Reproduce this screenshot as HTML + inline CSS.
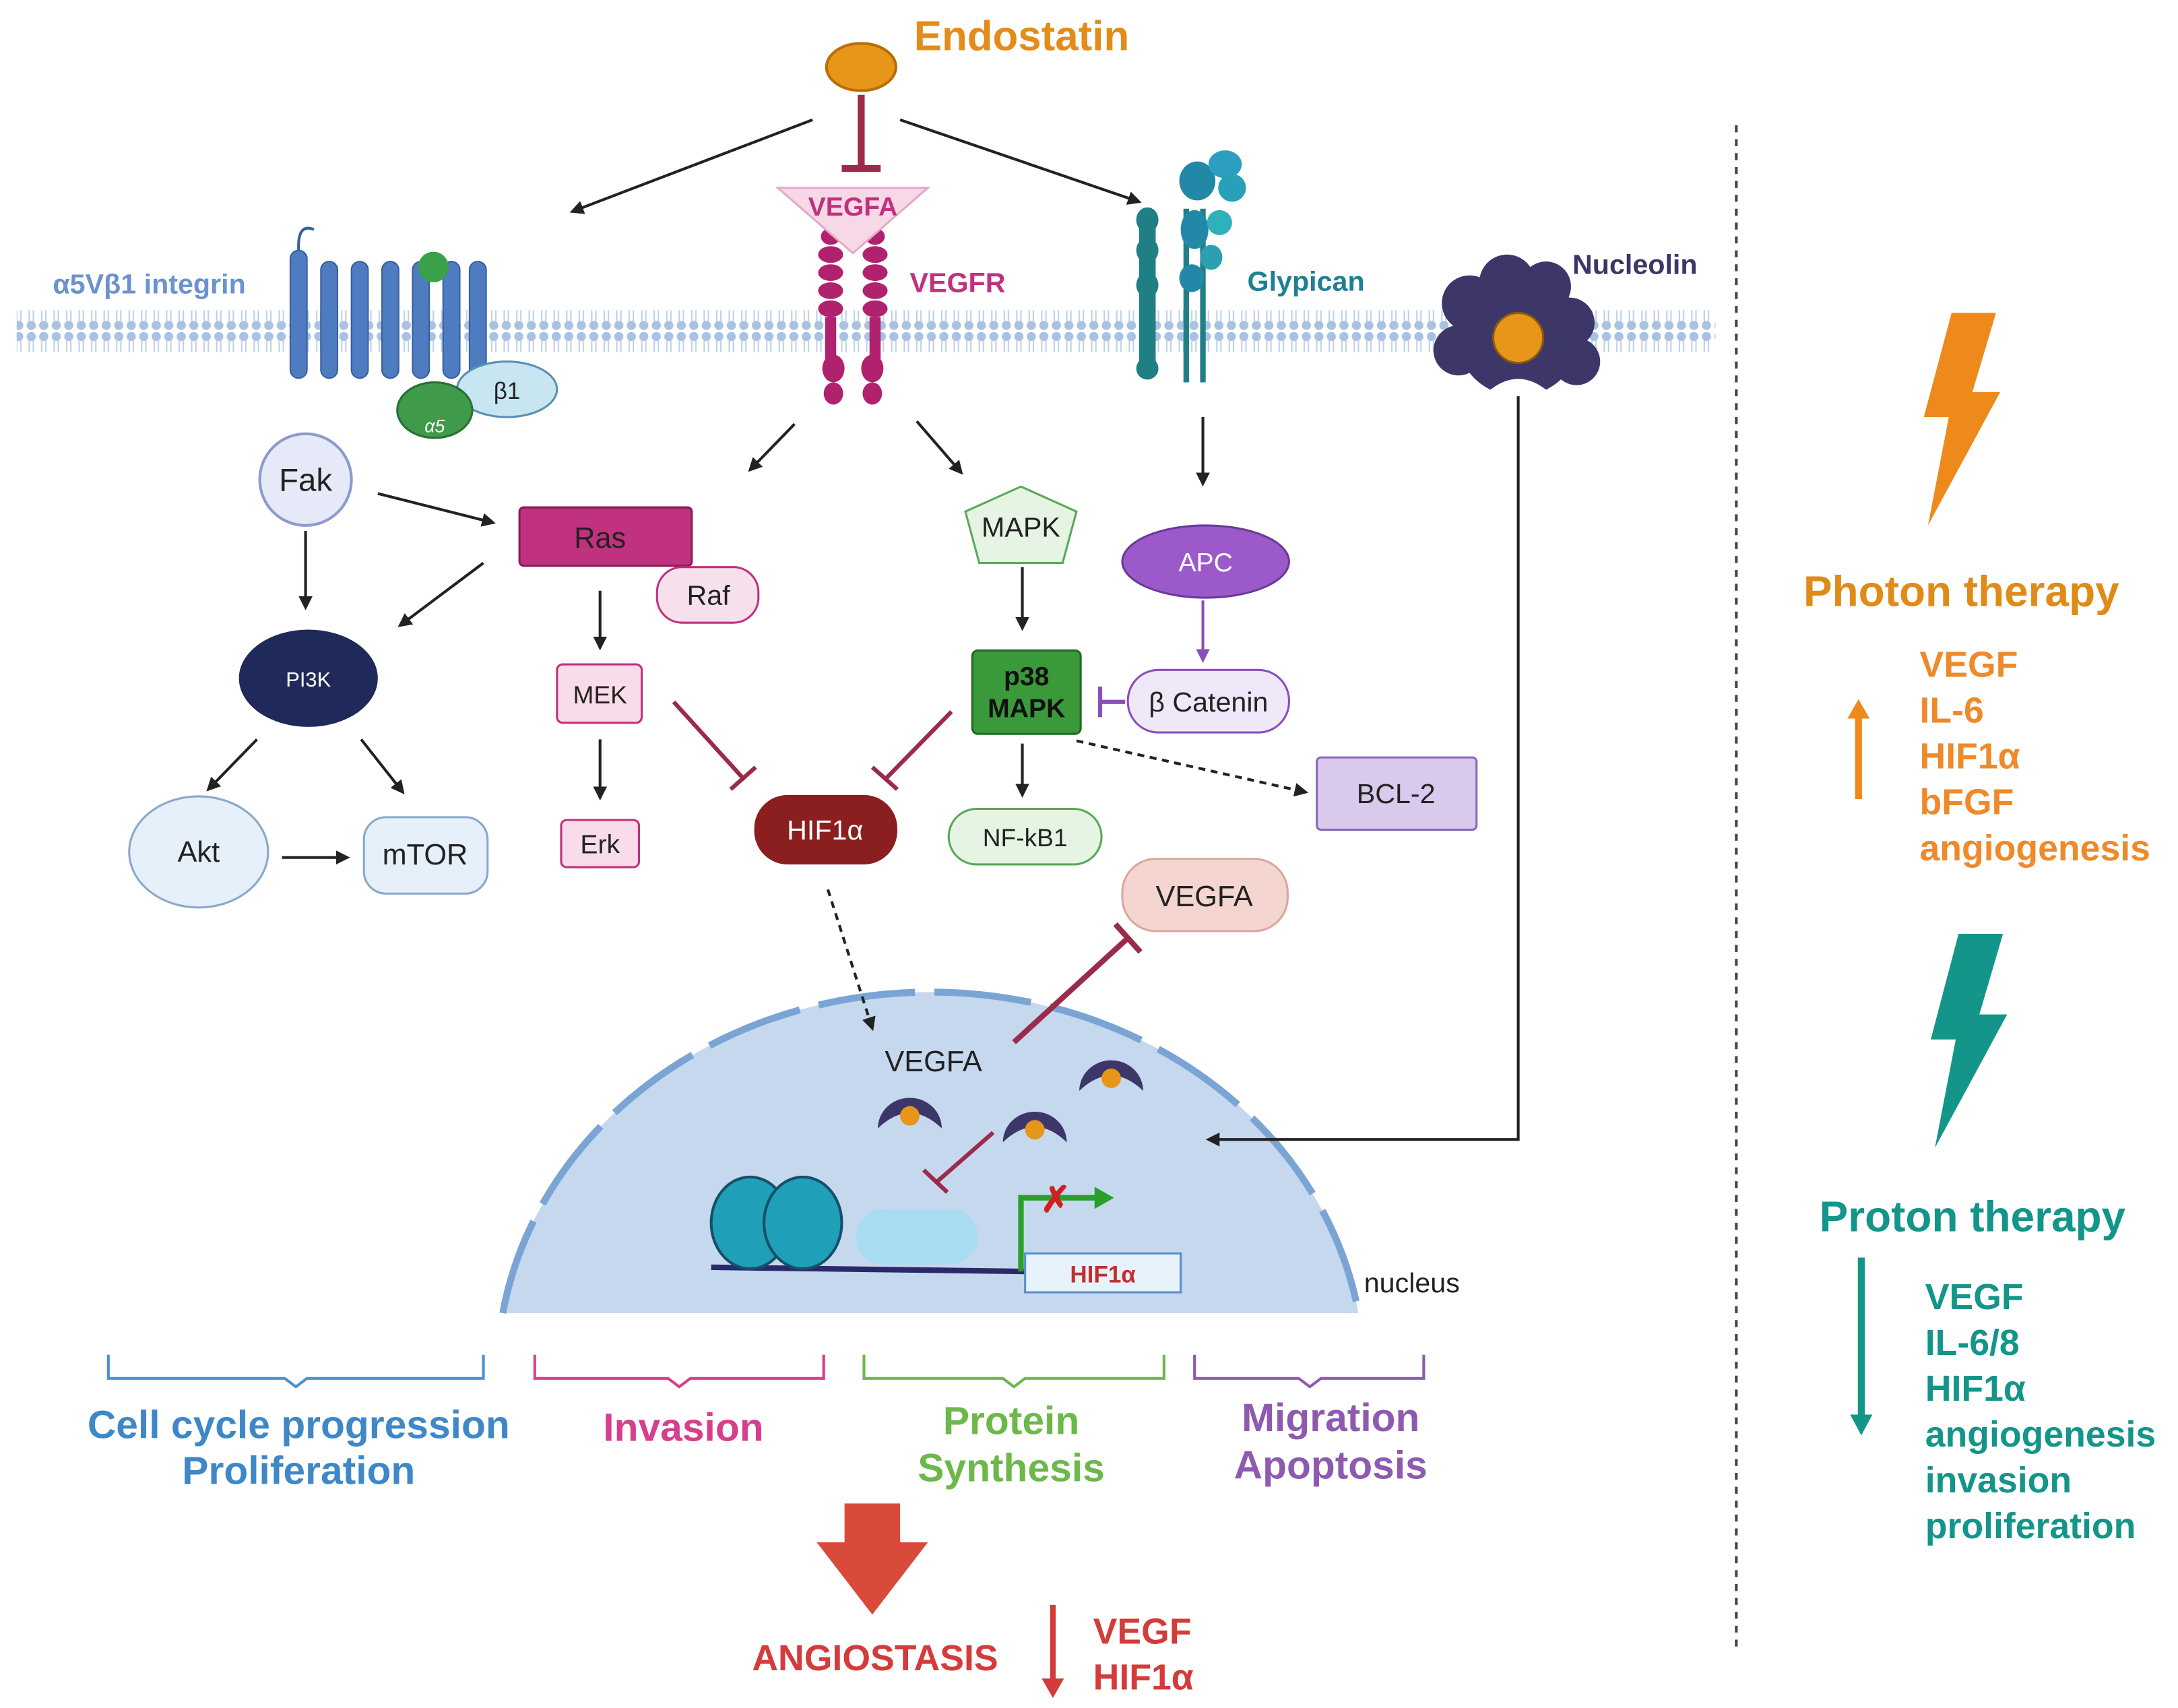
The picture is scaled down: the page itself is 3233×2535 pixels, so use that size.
<!DOCTYPE html>
<html><head><meta charset="utf-8"><style>
html,body{margin:0;padding:0;background:#fff;}
svg{display:block;}
text{font-family:"Liberation Sans",sans-serif;}
</style></head><body>
<svg width="3233" height="2535" viewBox="0 0 1568 1229" xmlns="http://www.w3.org/2000/svg">
<defs>
<marker id="ah" markerWidth="10" markerHeight="10" refX="8" refY="5" orient="auto" markerUnits="userSpaceOnUse"><path d="M0,0 L10,5 L0,10 z" fill="#222"/></marker>
<marker id="ahp" markerWidth="10" markerHeight="10" refX="8" refY="5" orient="auto" markerUnits="userSpaceOnUse"><path d="M0,0 L10,5 L0,10 z" fill="#8a4fb8"/></marker>
<pattern id="mem" width="9" height="34" patternUnits="userSpaceOnUse">
<circle cx="4.5" cy="4" r="3.3" fill="#a9c2e2"/><circle cx="4.5" cy="30" r="3.3" fill="#a9c2e2"/>
<line x1="3" y1="7" x2="3" y2="15" stroke="#bcd0e8" stroke-width="1"/><line x1="6" y1="7" x2="6" y2="15" stroke="#bcd0e8" stroke-width="1"/>
<line x1="3" y1="19" x2="3" y2="27" stroke="#bcd0e8" stroke-width="1"/><line x1="6" y1="19" x2="6" y2="27" stroke="#bcd0e8" stroke-width="1"/>
</pattern>
</defs>
<rect width="1568" height="1229" fill="#fff"/>

<rect x="12" y="223" width="1223" height="34" fill="url(#mem)"/>

<ellipse cx="620" cy="48" rx="25" ry="17" fill="#e8961a" stroke="#b86e08" stroke-width="2"/>
<text x="658" y="36" font-size="30" font-weight="bold" fill="#e38c1a">Endostatin</text>
<line x1="585" y1="86" x2="412" y2="152" stroke="#222" stroke-width="2" marker-end="url(#ah)"/>
<line x1="648" y1="86" x2="820" y2="145" stroke="#222" stroke-width="2" marker-end="url(#ah)"/>
<line x1="620" y1="68" x2="620" y2="120" stroke="#9b2b4a" stroke-width="5"/>
<line x1="606" y1="121" x2="634" y2="121" stroke="#9b2b4a" stroke-width="5"/>

<g fill="#b0226e">
<ellipse cx="598" cy="170" rx="7" ry="6"/><ellipse cx="598" cy="183" rx="9" ry="6"/><ellipse cx="598" cy="196" rx="9" ry="6"/><ellipse cx="598" cy="209" rx="9" ry="6"/><ellipse cx="598" cy="222" rx="9" ry="6"/><rect x="594" y="228" width="8" height="30"/><ellipse cx="600" cy="265" rx="8" ry="10"/><ellipse cx="600" cy="283" rx="7" ry="8"/>
<ellipse cx="630" cy="170" rx="7" ry="6"/><ellipse cx="630" cy="183" rx="9" ry="6"/><ellipse cx="630" cy="196" rx="9" ry="6"/><ellipse cx="630" cy="209" rx="9" ry="6"/><ellipse cx="630" cy="222" rx="9" ry="6"/><rect x="626" y="228" width="8" height="30"/><ellipse cx="628" cy="265" rx="8" ry="10"/><ellipse cx="628" cy="283" rx="7" ry="8"/>
</g>
<path d="M560,135 L668,135 L614,182 z" fill="#f7d8e6" stroke="#e7a7c8" stroke-width="1.5"/>
<text x="614" y="155" font-size="19" font-weight="bold" fill="#c0317f" text-anchor="middle">VEGFA</text>
<text x="655" y="210" font-size="20" font-weight="bold" fill="#c0317f">VEGFR</text>

<text x="38" y="211" font-size="20" font-weight="bold" fill="#6b93cc">α5Vβ1 integrin</text>
<g fill="#4f7cc0" stroke="#355f9e" stroke-width="1">
<rect x="209" y="180" width="12" height="92" rx="6"/><rect x="231" y="188" width="12" height="84" rx="6"/><rect x="253" y="188" width="12" height="84" rx="6"/><rect x="275" y="188" width="12" height="84" rx="6"/><rect x="297" y="188" width="12" height="84" rx="6"/><rect x="319" y="188" width="12" height="84" rx="6"/><rect x="338" y="188" width="12" height="84" rx="6"/>
</g>
<path d="M215,180 Q214,160 226,165" fill="none" stroke="#355f9e" stroke-width="2"/>
<circle cx="312" cy="192" r="11" fill="#3aa04a"/>
<ellipse cx="365" cy="280" rx="36" ry="20" fill="#c8e6f2" stroke="#5a8fb5" stroke-width="1.5"/>
<text x="365" y="287" font-size="17" text-anchor="middle" fill="#222">β1</text>
<ellipse cx="313" cy="295" rx="27" ry="20" fill="#3f9a4a" stroke="#2a6e34" stroke-width="1.5"/>
<text x="313" y="311" font-size="13" font-style="italic" text-anchor="middle" fill="#fff">α5</text>

<g fill="#1f7f85">
<rect x="820" y="150" width="12" height="120" rx="5"/><ellipse cx="826" cy="158" rx="8" ry="9"/><ellipse cx="826" cy="180" rx="8" ry="9"/><ellipse cx="826" cy="205" rx="8" ry="9"/><ellipse cx="826" cy="265" rx="8" ry="8"/>
<rect x="852" y="150" width="4" height="125"/><rect x="864" y="150" width="4" height="125"/>
<ellipse cx="862" cy="130" rx="13" ry="14" fill="#2288a8"/><ellipse cx="882" cy="118" rx="12" ry="10" fill="#2c9fc0"/><ellipse cx="887" cy="135" rx="10" ry="10" fill="#28a0b8"/><ellipse cx="860" cy="165" rx="10" ry="14" fill="#2288a8"/><ellipse cx="878" cy="160" rx="9" ry="9" fill="#30b0b8"/><ellipse cx="872" cy="185" rx="8" ry="9" fill="#2aa0b0"/><ellipse cx="858" cy="200" rx="9" ry="10" fill="#2288a8"/>
</g>
<text x="898" y="209" font-size="20" font-weight="bold" fill="#1f7f95">Glypican</text>

<g fill="#3c3768">
<circle cx="1093" cy="240" r="45"/><circle cx="1058" cy="218" r="20"/><circle cx="1085" cy="203" r="20"/><circle cx="1113" cy="206" r="18"/><circle cx="1130" cy="232" r="18"/><circle cx="1050" cy="252" r="18"/><circle cx="1135" cy="260" r="17"/>
</g>
<path d="M1063,290 Q1093,255 1123,290" fill="#fff"/>
<circle cx="1093" cy="243" r="18" fill="#e8961a" stroke="#8a5a10" stroke-width="1.5"/>
<text x="1132" y="197" font-size="20" font-weight="bold" fill="#3c3768">Nucleolin</text>

<line x1="1250" y1="90" x2="1250" y2="1185" stroke="#444" stroke-width="2" stroke-dasharray="5,5"/>

<path d="M1405,225 L1437,225 L1420,282 L1440,282 L1388,378 L1403,300 L1385,300 z" fill="#ee8a1c"/>
<text x="1412" y="436" font-size="31" font-weight="bold" fill="#e08a18" text-anchor="middle">Photon therapy</text>
<line x1="1338" y1="575" x2="1338" y2="515" stroke="#ee8a1c" stroke-width="5"/>
<path d="M1330,517 L1338,503 L1346,517 z" fill="#ee8a1c"/>
<g font-size="26" font-weight="bold" fill="#ee8a2a">
<text x="1382" y="487">VEGF</text><text x="1382" y="520">IL-6</text><text x="1382" y="553">HIF1α</text><text x="1382" y="586">bFGF</text><text x="1382" y="619">angiogenesis</text>
</g>

<path d="M1410,672 L1442,672 L1425,730 L1445,730 L1393,826 L1408,748 L1390,748 z" fill="#14958a"/>
<text x="1420" y="886" font-size="31" font-weight="bold" fill="#14958a" text-anchor="middle">Proton therapy</text>
<line x1="1340" y1="905" x2="1340" y2="1020" stroke="#14958a" stroke-width="5"/>
<path d="M1332,1018 L1340,1033 L1348,1018 z" fill="#14958a"/>
<g font-size="26" font-weight="bold" fill="#14958a">
<text x="1386" y="942">VEGF</text><text x="1386" y="975">IL-6/8</text><text x="1386" y="1008">HIF1α</text><text x="1386" y="1041">angiogenesis</text><text x="1386" y="1074">invasion</text><text x="1386" y="1107">proliferation</text>
</g>

<!-- nucleus (drawn before connectors) -->
<path d="M362,945 A312,275 0 0 1 978,945 z" fill="#c5d8ee"/>
<path d="M362,945 A312,275 0 0 1 978,945" fill="none" stroke="#7aa4d4" stroke-width="5" stroke-dasharray="70,14"/>
<text x="982" y="930" font-size="20" fill="#222">nucleus</text>

<g stroke="#222" stroke-width="2" fill="none">
<line x1="572" y1="305" x2="540" y2="338" marker-end="url(#ah)"/>
<line x1="660" y1="303" x2="692" y2="340" marker-end="url(#ah)"/>
<line x1="866" y1="300" x2="866" y2="348" marker-end="url(#ah)"/>
<line x1="272" y1="355" x2="355" y2="376" marker-end="url(#ah)"/>
<line x1="220" y1="382" x2="220" y2="437" marker-end="url(#ah)"/>
<line x1="348" y1="405" x2="288" y2="450" marker-end="url(#ah)"/>
<line x1="432" y1="425" x2="432" y2="466" marker-end="url(#ah)"/>
<line x1="432" y1="532" x2="432" y2="574" marker-end="url(#ah)"/>
<line x1="736" y1="408" x2="736" y2="452" marker-end="url(#ah)"/>
<line x1="736" y1="535" x2="736" y2="572" marker-end="url(#ah)"/>
<line x1="185" y1="532" x2="150" y2="568" marker-end="url(#ah)"/>
<line x1="260" y1="532" x2="290" y2="570" marker-end="url(#ah)"/>
<line x1="203" y1="617" x2="250" y2="617" marker-end="url(#ah)"/>
<line x1="775" y1="533" x2="940" y2="570" stroke-dasharray="5,4" marker-end="url(#ah)"/>
<line x1="596" y1="640" x2="628" y2="740" stroke-dasharray="5,4" marker-end="url(#ah)"/>
<polyline points="1093,285 1093,820 870,820" marker-end="url(#ah)"/>
</g>
<line x1="866" y1="432" x2="866" y2="475" stroke="#8a4fb8" stroke-width="2" marker-end="url(#ahp)"/>
<line x1="810" y1="505" x2="792" y2="505" stroke="#8a4fb8" stroke-width="3"/>
<line x1="792" y1="494" x2="792" y2="516" stroke="#8a4fb8" stroke-width="3"/>
<g stroke="#9b2b4a" stroke-width="3">
<line x1="485" y1="505" x2="535" y2="560"/><line x1="526" y1="568" x2="544" y2="552"/>
<line x1="685" y1="512" x2="638" y2="560"/><line x1="628" y1="552" x2="646" y2="568"/>
</g>

<circle cx="220" cy="345" r="33" fill="#e6e9f8" stroke="#8c9ad0" stroke-width="2"/>
<text x="220" y="353" font-size="23" text-anchor="middle" fill="#222">Fak</text>
<rect x="374" y="365" width="124" height="42" rx="3" fill="#c0317f" stroke="#8a1a5a" stroke-width="1.5"/>
<text x="432" y="394" font-size="21" text-anchor="middle" fill="#222">Ras</text>
<rect x="473" y="408" width="73" height="40" rx="18" fill="#f6e0ec" stroke="#c0317f" stroke-width="1.5"/>
<text x="510" y="435" font-size="20" text-anchor="middle" fill="#222">Raf</text>
<path d="M735,350 L775,368 L765,405 L705,405 L695,368 z" fill="#e6f5e3" stroke="#5aa85a" stroke-width="1.5"/>
<text x="735" y="386" font-size="20" text-anchor="middle" fill="#222">MAPK</text>
<ellipse cx="868" cy="404" rx="60" ry="26" fill="#9b59c9" stroke="#6a3a98" stroke-width="1.5"/>
<text x="868" y="411" font-size="19" text-anchor="middle" fill="#fff">APC</text>
<ellipse cx="222" cy="488" rx="50" ry="35" fill="#1f2a5a"/>
<text x="222" y="494" font-size="15" text-anchor="middle" fill="#fff">PI3K</text>
<rect x="401" y="478" width="61" height="42" rx="4" fill="#f8dcea" stroke="#c0317f" stroke-width="1.5"/>
<text x="432" y="506" font-size="18" text-anchor="middle" fill="#222">MEK</text>
<rect x="700" y="468" width="78" height="60" rx="4" fill="#3a9a3a" stroke="#226a22" stroke-width="1.5"/>
<text x="739" y="493" font-size="19" font-weight="bold" text-anchor="middle" fill="#111">p38</text>
<text x="739" y="516" font-size="19" font-weight="bold" text-anchor="middle" fill="#111">MAPK</text>
<rect x="812" y="482" width="116" height="45" rx="22" fill="#f0e8f8" stroke="#8a4fb8" stroke-width="1.5"/>
<text x="870" y="512" font-size="20" text-anchor="middle" fill="#222">β Catenin</text>
<rect x="948" y="545" width="115" height="52" rx="3" fill="#d9c9ec" stroke="#8a6ab8" stroke-width="1.5"/>
<text x="1005" y="578" font-size="20" text-anchor="middle" fill="#222">BCL-2</text>
<ellipse cx="143" cy="613" rx="50" ry="40" fill="#e6f0fa" stroke="#8aa8c8" stroke-width="1.5"/>
<text x="143" y="620" font-size="21" text-anchor="middle" fill="#222">Akt</text>
<rect x="262" y="588" width="89" height="55" rx="16" fill="#e6f0fa" stroke="#8aa8c8" stroke-width="1.5"/>
<text x="306" y="622" font-size="21" text-anchor="middle" fill="#222">mTOR</text>
<rect x="404" y="590" width="56" height="34" rx="4" fill="#f8dcea" stroke="#c0317f" stroke-width="1.5"/>
<text x="432" y="614" font-size="19" text-anchor="middle" fill="#222">Erk</text>
<rect x="543" y="572" width="103" height="50" rx="24" fill="#8b1f1f"/>
<text x="594" y="604" font-size="20" text-anchor="middle" fill="#fff">HIF1α</text>
<rect x="683" y="582" width="110" height="40" rx="20" fill="#e6f5e3" stroke="#5aa85a" stroke-width="1.5"/>
<text x="738" y="609" font-size="18" text-anchor="middle" fill="#222">NF-kB1</text>
<rect x="808" y="618" width="119" height="52" rx="24" fill="#f5d5d0" stroke="#d8a8a0" stroke-width="1.5"/>
<text x="867" y="652" font-size="21" text-anchor="middle" fill="#222">VEGFA</text>

<text x="672" y="771" font-size="21" text-anchor="middle" fill="#222">VEGFA</text>
<line x1="730" y1="750" x2="812" y2="675" stroke="#9b2b4a" stroke-width="4"/>
<line x1="803" y1="665" x2="821" y2="685" stroke="#9b2b4a" stroke-width="4"/>
<line x1="715" y1="815" x2="675" y2="850" stroke="#9b2b4a" stroke-width="3"/>
<line x1="665" y1="842" x2="682" y2="858" stroke="#9b2b4a" stroke-width="3"/>
<g>
<path d="M632,812 A23,22 0 1 1 678,812 Q655,790 632,812 z" fill="#3c3768"/><circle cx="655" cy="803" r="7" fill="#e8961a"/>
<path d="M722,822 A23,22 0 1 1 768,822 Q745,800 722,822 z" fill="#3c3768"/><circle cx="745" cy="813" r="7" fill="#e8961a"/>
<path d="M777,785 A23,22 0 1 1 823,785 Q800,763 777,785 z" fill="#3c3768"/><circle cx="800" cy="776" r="7" fill="#e8961a"/>
</g>
<line x1="512" y1="912" x2="740" y2="915" stroke="#2a2a6a" stroke-width="4"/>
<ellipse cx="540" cy="880" rx="28" ry="33" fill="#20a0b8" stroke="#15506a" stroke-width="2"/>
<ellipse cx="578" cy="880" rx="28" ry="33" fill="#20a0b8" stroke="#15506a" stroke-width="2"/>
<rect x="616" y="870" width="88" height="40" rx="20" fill="#a8dcf0"/>
<rect x="738" y="902" width="112" height="28" fill="#e8f2fa" stroke="#5a8fc8" stroke-width="1.5"/>
<text x="794" y="923" font-size="17" font-weight="bold" text-anchor="middle" fill="#c03030">HIF1α</text>
<polyline points="735,915 735,862 790,862" fill="none" stroke="#2aa02a" stroke-width="4"/>
<path d="M788,854 L802,862 L788,870 z" fill="#2aa02a"/>
<text x="760" y="872" font-size="26" font-weight="bold" text-anchor="middle" fill="#d02020">✗</text>

<g fill="none" stroke-width="2">
<path d="M78,975 V992 H205 L213,998 L221,992 H348 V975" stroke="#4a90d0"/>
<path d="M385,975 V992 H481 L489,998 L497,992 H593 V975" stroke="#d63f8e"/>
<path d="M622,975 V992 H722 L730,998 L738,992 H838 V975" stroke="#6cb84a"/>
<path d="M860,975 V992 H935 L943,998 L951,992 H1025 V975" stroke="#8e5ab0"/>
</g>
<g font-size="28.5" font-weight="bold" text-anchor="middle">
<text x="215" y="1035" fill="#3f88c8">Cell cycle progression</text>
<text x="215" y="1068" fill="#3f88c8">Proliferation</text>
<text x="492" y="1037" fill="#d63f8e">Invasion</text>
<text x="728" y="1032" fill="#6cb84a">Protein</text>
<text x="728" y="1066" fill="#6cb84a">Synthesis</text>
<text x="958" y="1030" fill="#8e5ab0">Migration</text>
<text x="958" y="1064" fill="#8e5ab0">Apoptosis</text>
</g>

<rect x="608" y="1082" width="40" height="30" fill="#d94a3a"/>
<path d="M588,1110 L668,1110 L628,1162 z" fill="#d94a3a"/>
<text x="630" y="1202" font-size="26" font-weight="bold" text-anchor="middle" fill="#d43b3b">ANGIOSTASIS</text>
<line x1="758" y1="1155" x2="758" y2="1210" stroke="#d43b3b" stroke-width="4"/>
<path d="M750,1208 L758,1222 L766,1208 z" fill="#d43b3b"/>
<text x="787" y="1183" font-size="26" font-weight="bold" fill="#d43b3b">VEGF</text>
<text x="787" y="1216" font-size="26" font-weight="bold" fill="#d43b3b">HIF1α</text>
</svg>
</body></html>
